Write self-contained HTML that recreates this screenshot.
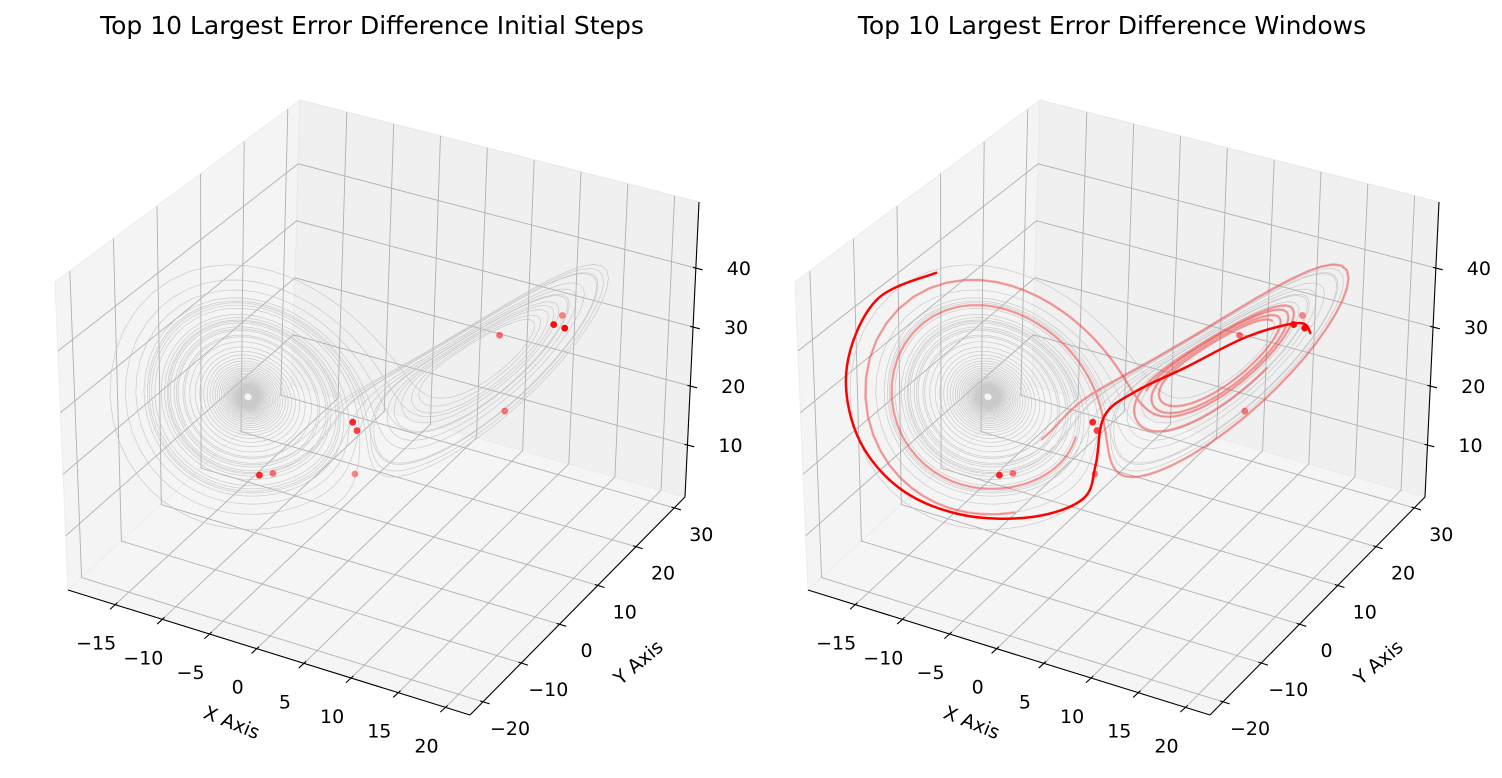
<!DOCTYPE html>
<html><head><meta charset="utf-8"><style>
html,body{margin:0;padding:0;background:#fff;}
svg{display:block;font-family:"DejaVu Sans","Liberation Sans",sans-serif;}
</style></head><body>
<svg id="fig" width="1502" height="778" viewBox="0 0 1502 778" xmlns="http://www.w3.org/2000/svg">
<rect x="0" y="0" width="1502" height="778" fill="#fff"/>
<text x="372" y="34" font-size="25" text-anchor="middle" fill="#000">Top 10 Largest Error Difference Initial Steps</text>
<text x="1112" y="34" font-size="25" text-anchor="middle" fill="#000">Top 10 Largest Error Difference Windows</text>
<g id="left"></g>
<g id="right"></g>
</svg>
<script>
const xTicks=[-15,-10,-5,0,5,10,15,20];
const yTicks=[-20,-10,0,10,20,30];
const zTicks=[10,20,30,40];
const xRange=[-20,22.6];
const yRange=[-23.4,32.8];
const zRange=[1.2,51.2];
// top-10 initial steps (x, y, z)
const ptX=[-9.8,-8.87,-1.8,-1.75,-1.2,10.0,12.0,15.0,15.9,16.2];
const ptY=[0.7,1.9,5.0,6.0,4.3,13.2,10.2,14.7,14.6,14.6];
const ptZ=[10.5,10.5,20.5,18.5,12.5,35.5,25.5,38.6,40.6,38.6];
const ptAlpha=[0.85,0.55,0.85,0.75,0.45,0.55,0.5,0.95,0.45,1.0];
// largest-error window trajectory (x, y, z)
const winX=[-17.1,-17.85,-17.9,-14.9,-11.6,-7.6,-3.8,-2.3,-2.2,-2.7,-0.3,3.7,9.0,15.0,16.9];
const winY=[2.6,-9.9,-17,-21.9,-20,-14.2,-5.3,4.0,6.9,10.1,12.1,15.3,17.8,16.1,14.5];
const winZ=[40,42,35,28,20,14,10,8,12,18,22,26,32,38,38];
// other windows as step-index ranges on the trajectory
const winStart=[3900,4250,4600];
const winLen=[160,150,170];

const NS="http://www.w3.org/2000/svg";
const corners={
 "000":[68,590],"100":[470,715],"110":[685,497],"010":[292,385],
 "001":[55,282],"101":[483,412],"111":[699,202],"011":[300,100]};
function lerp(a,b,t){return [a[0]+(b[0]-a[0])*t,a[1]+(b[1]-a[1])*t];}
function proj(x,y,z,ox){
 const u=(x-xRange[0])/(xRange[1]-xRange[0]);
 const v=(y-yRange[0])/(yRange[1]-yRange[0]);
 const w=(z-zRange[0])/(zRange[1]-zRange[0]);
 const b=lerp(lerp(corners["000"],corners["100"],u),lerp(corners["010"],corners["110"],u),v);
 const t=lerp(lerp(corners["001"],corners["101"],u),lerp(corners["011"],corners["111"],u),v);
 const p=lerp(b,t,w);return [p[0]+ox,p[1]];}
function mk(tag,attrs,parent){const e=document.createElementNS(NS,tag);for(const k in attrs)e.setAttribute(k,attrs[k]);parent.appendChild(e);return e;}
function poly(pts){return pts.map(p=>p[0].toFixed(1)+","+p[1].toFixed(1)).join(" ");}

// Lorenz trajectory (RK4)
const traj=[];
(function(){let s=[-8.1,-8.3,27.3];const dt=0.01;
 function f(q){return [10*(q[1]-q[0]),q[0]*(28-q[2])-q[1],q[0]*q[1]-8/3*q[2]];}
 for(let i=0;i<5200;i++){traj.push([s[0]+1.4,s[1],s[2]+3.3+0.12*(s[0]+s[1]+17)]);const k1=f(s);
  const k2=f(s.map((v,j)=>v+dt/2*k1[j]));const k3=f(s.map((v,j)=>v+dt/2*k2[j]));const k4=f(s.map((v,j)=>v+dt*k3[j]));
  s=s.map((v,j)=>v+dt/6*(k1[j]+2*k2[j]+2*k3[j]+k4[j]));}})();

function smoothPath(pts){let d="M"+pts[0][0]+","+pts[0][1];
 for(let i=0;i<pts.length-1;i++){const p0=pts[Math.max(0,i-1)],p1=pts[i],p2=pts[i+1],p3=pts[Math.min(pts.length-1,i+2)];
  const c1=[p1[0]+(p2[0]-p0[0])/6,p1[1]+(p2[1]-p0[1])/6],c2=[p2[0]-(p3[0]-p1[0])/6,p2[1]-(p3[1]-p1[1])/6];
  d+=" C"+c1[0].toFixed(1)+","+c1[1].toFixed(1)+" "+c2[0].toFixed(1)+","+c2[1].toFixed(1)+" "+p2[0].toFixed(1)+","+p2[1].toFixed(1);}
 return d;}

function drawAxes(g,ox,windows){
 const P=(x,y,z)=>proj(x,y,z,ox);
 const [x0,x1]=xRange,[y0,y1]=yRange,[z0,z1]=zRange;
 let e;
 e=mk("polygon",{points:poly([P(x0,y0,z0),P(x0,y1,z0),P(x0,y1,z1),P(x0,y0,z1)]),fill:"#f4f4f4",stroke:"#ececec","stroke-width":1},g);
 
 
 e=mk("polygon",{points:poly([P(x0,y1,z0),P(x1,y1,z0),P(x1,y1,z1),P(x0,y1,z1)]),fill:"#f0f0f0",stroke:"#e8e8e8","stroke-width":1},g);
 
 
 e=mk("polygon",{points:poly([P(x0,y0,z0),P(x1,y0,z0),P(x1,y1,z0),P(x0,y1,z0)]),fill:"#f5f5f5",stroke:"#ececec","stroke-width":1},g);
 
 
 const grid=mk("g",{stroke:"#b0b0b0","stroke-width":0.9,fill:"none"},g);
 
 
 xTicks.forEach(t=>{mk("polyline",{points:poly([P(t,y0,z0),P(t,y1,z0),P(t,y1,z1)])},grid);});
 yTicks.forEach(t=>{mk("polyline",{points:poly([P(x1,t,z0),P(x0,t,z0),P(x0,t,z1)])},grid);});
 zTicks.forEach(t=>{mk("polyline",{points:poly([P(x0,y0,t),P(x0,y1,t),P(x1,y1,t)])},grid);});
 e=mk("polyline",{points:poly(traj.slice(200).map(q=>P(q[0],q[1],q[2]))),fill:"none",stroke:"#bcbcbc","stroke-width":0.7,"stroke-opacity":0.75},g);
 
 
 if(windows){
  winStart.forEach((s,i)=>{const seg=traj.slice(s,s+winLen[i]).map(q=>P(q[0],q[1],q[2]));
   const l=mk("polyline",{points:poly(seg),fill:"none",stroke:"#ff0000","stroke-width":2.5,"stroke-opacity":0.32},g);
   
   });
  const wp=winX.map((x,i)=>P(x,winY[i],winZ[i]));
  const l=mk("path",{d:smoothPath(wp),fill:"none",stroke:"#ff0000","stroke-width":2.5},g);
  
  
 }
 ptX.forEach((x,i)=>{const p=P(x,ptY[i],ptZ[i]);
  const c=mk("circle",{cx:p[0],cy:p[1],r:3.4,fill:"#ff0000","fill-opacity":ptAlpha[i]},g);
  
  });
 const ax=mk("g",{stroke:"#000","stroke-width":1.1,fill:"none"},g);
 
 
 mk("line",{x1:P(x0,y0,z0)[0],y1:P(x0,y0,z0)[1],x2:P(x1,y0,z0)[0],y2:P(x1,y0,z0)[1]},ax);
 mk("line",{x1:P(x1,y0,z0)[0],y1:P(x1,y0,z0)[1],x2:P(x1,y1,z0)[0],y2:P(x1,y1,z0)[1]},ax);
 mk("line",{x1:P(x1,y1,z0)[0],y1:P(x1,y1,z0)[1],x2:P(x1,y1,z1)[0],y2:P(x1,y1,z1)[1]},ax);
 function unit(a,b){const dx=b[0]-a[0],dy=b[1]-a[1],L=Math.hypot(dx,dy);return [dx/L,dy/L];}
 const dX=unit(P(x0,y1,z0),P(x0,y0,z0));
 const dY=unit(P(x0,y0,z0),P(x1,y0,z0));
 const dZ=unit(P(x0,y1,z1),P(x1,y1,z1));
 function tick(p,d,lbl,off,name){
  mk("line",{x1:p[0]-d[0]*3,y1:p[1]-d[1]*3,x2:p[0]+d[0]*7,y2:p[1]+d[1]*7},ax);
  const t=mk("text",{x:p[0]+off[0],y:p[1]+off[1]+7,"font-size":19,"text-anchor":"middle",fill:"#000",stroke:"none"},g);
  t.textContent=lbl<0?"\u2212"+(-lbl):String(lbl);
  
  }
 xTicks.forEach(t=>tick(P(t,y0,z0),dX,t,[-19,38],'x-tick-label'));
 yTicks.forEach(t=>tick(P(x1,t,z0),dY,t,[27,26],'y-tick-label'));
 zTicks.forEach(t=>tick(P(x1,y1,t),dZ,t,[43,0],'z-tick-label'));
 let lx=mk("text",{x:232+ox,y:729,"font-size":19,"text-anchor":"middle",transform:"rotate(22 "+(232+ox)+" 722)",fill:"#000"},g);
 lx.textContent="X Axis";
 
 
 let ly=mk("text",{x:638+ox,y:669,"font-size":19,"text-anchor":"middle",transform:"rotate(-40 "+(638+ox)+" 662)",fill:"#000"},g);
 ly.textContent="Y Axis";
 
 
}
drawAxes(document.getElementById("left"),0,false);
drawAxes(document.getElementById("right"),740,true);
</script>
</body></html>
